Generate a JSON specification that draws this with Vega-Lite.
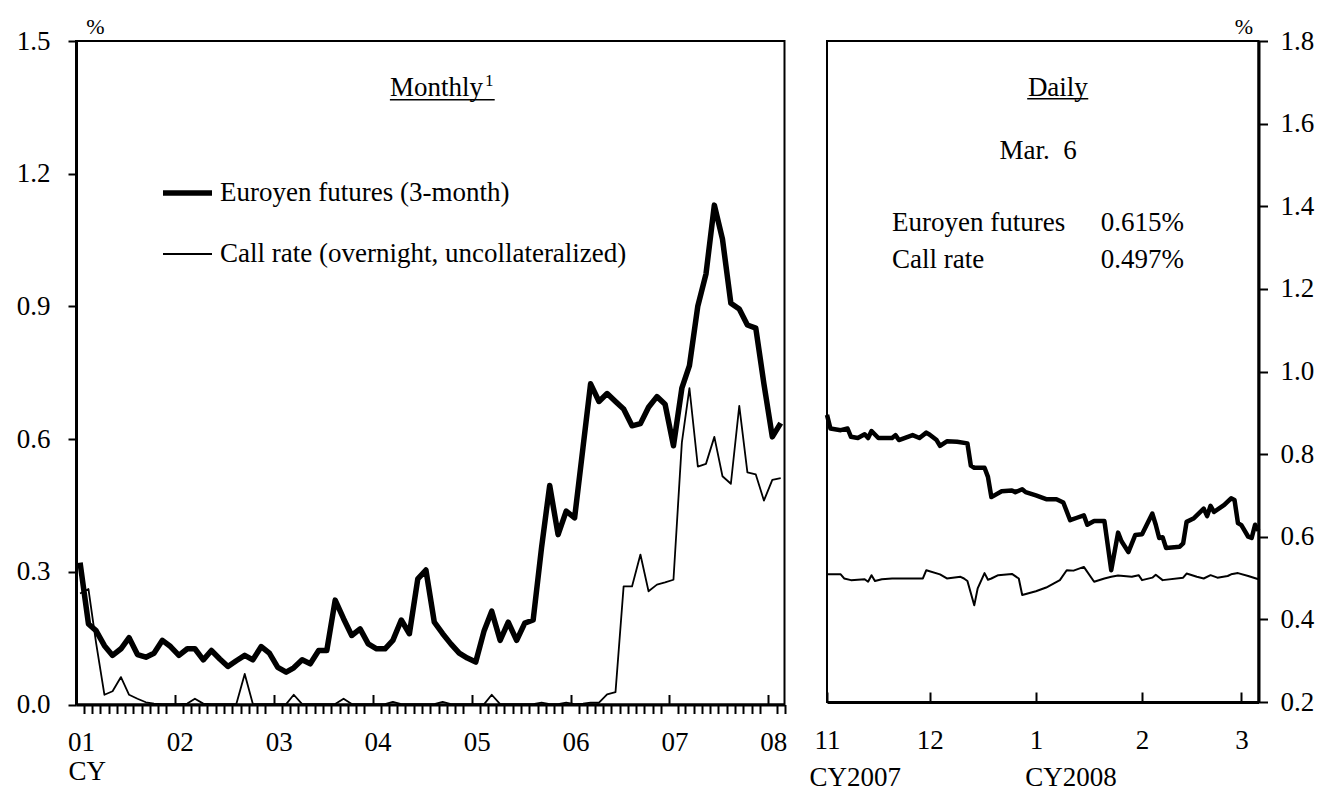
{
  "$schema": "https://vega.github.io/schema/vega-lite/v6.json",
  "autosize": {"type": "pad"},
  "padding": {"left": 15, "top": 14, "right": 0, "bottom": 0},
  "background": "white",
  "config": {
    "font": "Liberation Serif",
    "view": {"stroke": "black", "strokeWidth": 2},
    "axis": {"labelColor": "black", "tickColor": "black", "domainColor": "black", "titleColor": "black", "labelFontSize": 27, "grid": false, "labelFlush": false, "labelOverlap": false, "labelFont": "Liberation Serif", "titleFont": "Liberation Serif"},
    "text": {"fontSize": 27, "color": "black", "font": "Liberation Serif"}
  },
  "datasets": {
    "monthly": [
      {"date": "2001-01-16", "euroyen": 0.321, "call": 0.251},
      {"date": "2001-02-16", "euroyen": 0.182, "call": 0.261},
      {"date": "2001-03-16", "euroyen": 0.167, "call": 0.14},
      {"date": "2001-04-16", "euroyen": 0.133, "call": 0.022},
      {"date": "2001-05-16", "euroyen": 0.111, "call": 0.030},
      {"date": "2001-06-16", "euroyen": 0.126, "call": 0.062},
      {"date": "2001-07-16", "euroyen": 0.151, "call": 0.022},
      {"date": "2001-08-16", "euroyen": 0.113, "call": 0.013},
      {"date": "2001-09-16", "euroyen": 0.107, "call": 0.005},
      {"date": "2001-10-16", "euroyen": 0.116, "call": 0.002},
      {"date": "2001-11-16", "euroyen": 0.145, "call": 0.001},
      {"date": "2001-12-16", "euroyen": 0.131, "call": 0.001},
      {"date": "2002-01-16", "euroyen": 0.111, "call": 0.001},
      {"date": "2002-02-16", "euroyen": 0.126, "call": 0.002},
      {"date": "2002-03-16", "euroyen": 0.126, "call": 0.013},
      {"date": "2002-04-16", "euroyen": 0.101, "call": 0.002},
      {"date": "2002-05-16", "euroyen": 0.122, "call": 0.001},
      {"date": "2002-06-16", "euroyen": 0.103, "call": 0.001},
      {"date": "2002-07-16", "euroyen": 0.086, "call": 0.001},
      {"date": "2002-08-16", "euroyen": 0.099, "call": 0.001},
      {"date": "2002-09-16", "euroyen": 0.111, "call": 0.069},
      {"date": "2002-10-16", "euroyen": 0.101, "call": 0.001},
      {"date": "2002-11-16", "euroyen": 0.131, "call": 0.001},
      {"date": "2002-12-16", "euroyen": 0.116, "call": 0.001},
      {"date": "2003-01-16", "euroyen": 0.084, "call": 0.001},
      {"date": "2003-02-16", "euroyen": 0.073, "call": 0.001},
      {"date": "2003-03-16", "euroyen": 0.083, "call": 0.022},
      {"date": "2003-04-16", "euroyen": 0.101, "call": 0.001},
      {"date": "2003-05-16", "euroyen": 0.092, "call": 0.001},
      {"date": "2003-06-16", "euroyen": 0.122, "call": 0.001},
      {"date": "2003-07-16", "euroyen": 0.122, "call": 0.001},
      {"date": "2003-08-16", "euroyen": 0.236, "call": 0.001},
      {"date": "2003-09-16", "euroyen": 0.194, "call": 0.013},
      {"date": "2003-10-16", "euroyen": 0.156, "call": 0.001},
      {"date": "2003-11-16", "euroyen": 0.171, "call": 0.001},
      {"date": "2003-12-16", "euroyen": 0.137, "call": 0.001},
      {"date": "2004-01-16", "euroyen": 0.126, "call": 0.001},
      {"date": "2004-02-16", "euroyen": 0.126, "call": 0.001},
      {"date": "2004-03-16", "euroyen": 0.145, "call": 0.006},
      {"date": "2004-04-16", "euroyen": 0.191, "call": 0.001},
      {"date": "2004-05-16", "euroyen": 0.160, "call": 0.001},
      {"date": "2004-06-16", "euroyen": 0.284, "call": 0.001},
      {"date": "2004-07-16", "euroyen": 0.304, "call": 0.001},
      {"date": "2004-08-16", "euroyen": 0.186, "call": 0.001},
      {"date": "2004-09-16", "euroyen": 0.160, "call": 0.006},
      {"date": "2004-10-16", "euroyen": 0.137, "call": 0.001},
      {"date": "2004-11-16", "euroyen": 0.116, "call": 0.001},
      {"date": "2004-12-16", "euroyen": 0.105, "call": 0.001},
      {"date": "2005-01-16", "euroyen": 0.096, "call": 0.001},
      {"date": "2005-02-16", "euroyen": 0.167, "call": 0.001},
      {"date": "2005-03-16", "euroyen": 0.211, "call": 0.022},
      {"date": "2005-04-16", "euroyen": 0.145, "call": 0.001},
      {"date": "2005-05-16", "euroyen": 0.186, "call": 0.001},
      {"date": "2005-06-16", "euroyen": 0.145, "call": 0.001},
      {"date": "2005-07-16", "euroyen": 0.184, "call": 0.001},
      {"date": "2005-08-16", "euroyen": 0.191, "call": 0.001},
      {"date": "2005-09-16", "euroyen": 0.355, "call": 0.004},
      {"date": "2005-10-16", "euroyen": 0.495, "call": 0.001},
      {"date": "2005-11-16", "euroyen": 0.384, "call": 0.001},
      {"date": "2005-12-16", "euroyen": 0.437, "call": 0.004},
      {"date": "2006-01-16", "euroyen": 0.422, "call": 0.001},
      {"date": "2006-02-16", "euroyen": 0.581, "call": 0.002},
      {"date": "2006-03-16", "euroyen": 0.725, "call": 0.004},
      {"date": "2006-04-16", "euroyen": 0.685, "call": 0.004},
      {"date": "2006-05-16", "euroyen": 0.703, "call": 0.023},
      {"date": "2006-06-16", "euroyen": 0.685, "call": 0.028},
      {"date": "2006-07-16", "euroyen": 0.668, "call": 0.267},
      {"date": "2006-08-16", "euroyen": 0.630, "call": 0.267},
      {"date": "2006-09-16", "euroyen": 0.635, "call": 0.339},
      {"date": "2006-10-16", "euroyen": 0.672, "call": 0.256},
      {"date": "2006-11-16", "euroyen": 0.696, "call": 0.271},
      {"date": "2006-12-16", "euroyen": 0.679, "call": 0.276},
      {"date": "2007-01-16", "euroyen": 0.585, "call": 0.282},
      {"date": "2007-02-16", "euroyen": 0.715, "call": 0.592},
      {"date": "2007-03-16", "euroyen": 0.766, "call": 0.715},
      {"date": "2007-04-16", "euroyen": 0.901, "call": 0.538},
      {"date": "2007-05-16", "euroyen": 0.973, "call": 0.544},
      {"date": "2007-06-16", "euroyen": 1.129, "call": 0.605},
      {"date": "2007-07-16", "euroyen": 1.052, "call": 0.516},
      {"date": "2007-08-16", "euroyen": 0.907, "call": 0.499},
      {"date": "2007-09-16", "euroyen": 0.894, "call": 0.675},
      {"date": "2007-10-16", "euroyen": 0.858, "call": 0.525},
      {"date": "2007-11-16", "euroyen": 0.851, "call": 0.520},
      {"date": "2007-12-16", "euroyen": 0.725, "call": 0.461},
      {"date": "2008-01-16", "euroyen": 0.605, "call": 0.508},
      {"date": "2008-02-16", "euroyen": 0.636, "call": 0.512}
    ],
    "daily": [
      {"date": "2007-11-01", "series": "euroyen", "value": 0.895},
      {"date": "2007-11-02", "series": "euroyen", "value": 0.862},
      {"date": "2007-11-05", "series": "euroyen", "value": 0.858},
      {"date": "2007-11-07", "series": "euroyen", "value": 0.862},
      {"date": "2007-11-08", "series": "euroyen", "value": 0.842},
      {"date": "2007-11-10", "series": "euroyen", "value": 0.839},
      {"date": "2007-11-12", "series": "euroyen", "value": 0.848},
      {"date": "2007-11-13", "series": "euroyen", "value": 0.839},
      {"date": "2007-11-14", "series": "euroyen", "value": 0.856},
      {"date": "2007-11-16", "series": "euroyen", "value": 0.839},
      {"date": "2007-11-20", "series": "euroyen", "value": 0.839},
      {"date": "2007-11-21", "series": "euroyen", "value": 0.846},
      {"date": "2007-11-22", "series": "euroyen", "value": 0.834},
      {"date": "2007-11-26", "series": "euroyen", "value": 0.846},
      {"date": "2007-11-28", "series": "euroyen", "value": 0.839},
      {"date": "2007-11-30", "series": "euroyen", "value": 0.852},
      {"date": "2007-12-01", "series": "euroyen", "value": 0.847},
      {"date": "2007-12-03", "series": "euroyen", "value": 0.834},
      {"date": "2007-12-04", "series": "euroyen", "value": 0.820},
      {"date": "2007-12-06", "series": "euroyen", "value": 0.831},
      {"date": "2007-12-09", "series": "euroyen", "value": 0.830},
      {"date": "2007-12-12", "series": "euroyen", "value": 0.826},
      {"date": "2007-12-13", "series": "euroyen", "value": 0.772},
      {"date": "2007-12-14", "series": "euroyen", "value": 0.767},
      {"date": "2007-12-17", "series": "euroyen", "value": 0.767},
      {"date": "2007-12-18", "series": "euroyen", "value": 0.745},
      {"date": "2007-12-19", "series": "euroyen", "value": 0.696},
      {"date": "2007-12-22", "series": "euroyen", "value": 0.710},
      {"date": "2007-12-25", "series": "euroyen", "value": 0.712},
      {"date": "2007-12-26", "series": "euroyen", "value": 0.708},
      {"date": "2007-12-28", "series": "euroyen", "value": 0.715},
      {"date": "2007-12-29", "series": "euroyen", "value": 0.708},
      {"date": "2008-01-01", "series": "euroyen", "value": 0.700},
      {"date": "2008-01-04", "series": "euroyen", "value": 0.691},
      {"date": "2008-01-07", "series": "euroyen", "value": 0.691},
      {"date": "2008-01-09", "series": "euroyen", "value": 0.683},
      {"date": "2008-01-11", "series": "euroyen", "value": 0.640},
      {"date": "2008-01-13", "series": "euroyen", "value": 0.646},
      {"date": "2008-01-15", "series": "euroyen", "value": 0.652},
      {"date": "2008-01-16", "series": "euroyen", "value": 0.629},
      {"date": "2008-01-18", "series": "euroyen", "value": 0.638},
      {"date": "2008-01-21", "series": "euroyen", "value": 0.638},
      {"date": "2008-01-23", "series": "euroyen", "value": 0.519},
      {"date": "2008-01-25", "series": "euroyen", "value": 0.610},
      {"date": "2008-01-26", "series": "euroyen", "value": 0.589},
      {"date": "2008-01-28", "series": "euroyen", "value": 0.563},
      {"date": "2008-01-30", "series": "euroyen", "value": 0.604},
      {"date": "2008-02-01", "series": "euroyen", "value": 0.606},
      {"date": "2008-02-04", "series": "euroyen", "value": 0.656},
      {"date": "2008-02-05", "series": "euroyen", "value": 0.629},
      {"date": "2008-02-06", "series": "euroyen", "value": 0.597},
      {"date": "2008-02-07", "series": "euroyen", "value": 0.599},
      {"date": "2008-02-08", "series": "euroyen", "value": 0.573},
      {"date": "2008-02-12", "series": "euroyen", "value": 0.576},
      {"date": "2008-02-13", "series": "euroyen", "value": 0.584},
      {"date": "2008-02-14", "series": "euroyen", "value": 0.636},
      {"date": "2008-02-16", "series": "euroyen", "value": 0.644},
      {"date": "2008-02-19", "series": "euroyen", "value": 0.668},
      {"date": "2008-02-20", "series": "euroyen", "value": 0.650},
      {"date": "2008-02-21", "series": "euroyen", "value": 0.675},
      {"date": "2008-02-22", "series": "euroyen", "value": 0.660},
      {"date": "2008-02-25", "series": "euroyen", "value": 0.677},
      {"date": "2008-02-27", "series": "euroyen", "value": 0.693},
      {"date": "2008-02-28", "series": "euroyen", "value": 0.689},
      {"date": "2008-02-29", "series": "euroyen", "value": 0.633},
      {"date": "2008-03-01", "series": "euroyen", "value": 0.628},
      {"date": "2008-03-03", "series": "euroyen", "value": 0.600},
      {"date": "2008-03-04", "series": "euroyen", "value": 0.597},
      {"date": "2008-03-05", "series": "euroyen", "value": 0.629},
      {"date": "2008-03-06", "series": "euroyen", "value": 0.615},
      {"date": "2007-11-01", "series": "call", "value": 0.509},
      {"date": "2007-11-05", "series": "call", "value": 0.509},
      {"date": "2007-11-06", "series": "call", "value": 0.499},
      {"date": "2007-11-08", "series": "call", "value": 0.495},
      {"date": "2007-11-12", "series": "call", "value": 0.497},
      {"date": "2007-11-13", "series": "call", "value": 0.491},
      {"date": "2007-11-14", "series": "call", "value": 0.507},
      {"date": "2007-11-15", "series": "call", "value": 0.493},
      {"date": "2007-11-17", "series": "call", "value": 0.497},
      {"date": "2007-11-20", "series": "call", "value": 0.499},
      {"date": "2007-11-27", "series": "call", "value": 0.499},
      {"date": "2007-11-29", "series": "call", "value": 0.499},
      {"date": "2007-11-30", "series": "call", "value": 0.519},
      {"date": "2007-12-04", "series": "call", "value": 0.509},
      {"date": "2007-12-06", "series": "call", "value": 0.499},
      {"date": "2007-12-10", "series": "call", "value": 0.503},
      {"date": "2007-12-11", "series": "call", "value": 0.499},
      {"date": "2007-12-12", "series": "call", "value": 0.493},
      {"date": "2007-12-14", "series": "call", "value": 0.434},
      {"date": "2007-12-15", "series": "call", "value": 0.475},
      {"date": "2007-12-17", "series": "call", "value": 0.512},
      {"date": "2007-12-18", "series": "call", "value": 0.496},
      {"date": "2007-12-19", "series": "call", "value": 0.499},
      {"date": "2007-12-21", "series": "call", "value": 0.507},
      {"date": "2007-12-25", "series": "call", "value": 0.510},
      {"date": "2007-12-27", "series": "call", "value": 0.499},
      {"date": "2007-12-28", "series": "call", "value": 0.459},
      {"date": "2008-01-01", "series": "call", "value": 0.468},
      {"date": "2008-01-04", "series": "call", "value": 0.477},
      {"date": "2008-01-08", "series": "call", "value": 0.495},
      {"date": "2008-01-10", "series": "call", "value": 0.519},
      {"date": "2008-01-12", "series": "call", "value": 0.518},
      {"date": "2008-01-15", "series": "call", "value": 0.527},
      {"date": "2008-01-18", "series": "call", "value": 0.491},
      {"date": "2008-01-21", "series": "call", "value": 0.499},
      {"date": "2008-01-23", "series": "call", "value": 0.503},
      {"date": "2008-01-25", "series": "call", "value": 0.506},
      {"date": "2008-01-29", "series": "call", "value": 0.503},
      {"date": "2008-01-31", "series": "call", "value": 0.507},
      {"date": "2008-02-01", "series": "call", "value": 0.495},
      {"date": "2008-02-04", "series": "call", "value": 0.501},
      {"date": "2008-02-05", "series": "call", "value": 0.508},
      {"date": "2008-02-07", "series": "call", "value": 0.495},
      {"date": "2008-02-13", "series": "call", "value": 0.501},
      {"date": "2008-02-14", "series": "call", "value": 0.511},
      {"date": "2008-02-17", "series": "call", "value": 0.503},
      {"date": "2008-02-19", "series": "call", "value": 0.499},
      {"date": "2008-02-21", "series": "call", "value": 0.507},
      {"date": "2008-02-23", "series": "call", "value": 0.501},
      {"date": "2008-02-26", "series": "call", "value": 0.505},
      {"date": "2008-02-27", "series": "call", "value": 0.509},
      {"date": "2008-02-29", "series": "call", "value": 0.512},
      {"date": "2008-03-03", "series": "call", "value": 0.505},
      {"date": "2008-03-06", "series": "call", "value": 0.497}
    ]
  },
  "hconcat": [
    {
      "width": 708.5,
      "height": 663.5,
      "layer": [
        {
          "data": {"name": "monthly"},
          "transform": [{"fold": ["euroyen", "call"], "as": ["series", "value"]}],
          "mark": {"type": "line", "color": "black", "strokeJoin": "round"},
          "encoding": {
            "x": {
              "field": "date", "type": "temporal",
              "scale": {"type": "utc", "domain": [{"year": 2001, "month": 1, "date": 1, "utc": true}, {"year": 2008, "month": 3, "date": 1, "utc": true}]},
              "axis": {
                "orient": "bottom", "title": null,
                "values": [
                  {"year": 2001, "month": 1, "date": 1, "utc": true},
                  {"year": 2002, "month": 1, "date": 1, "utc": true},
                  {"year": 2003, "month": 1, "date": 1, "utc": true},
                  {"year": 2004, "month": 1, "date": 1, "utc": true},
                  {"year": 2005, "month": 1, "date": 1, "utc": true},
                  {"year": 2006, "month": 1, "date": 1, "utc": true},
                  {"year": 2007, "month": 1, "date": 1, "utc": true},
                  {"year": 2008, "month": 1, "date": 1, "utc": true}
                ],
                "labelExpr": "utcFormat(datum.value, '%y')",
                "tickSize": -10, "tickWidth": 2, "domainWidth": 3,
                "labelPadding": 34.5, "labelOffset": 5, "labelFontSize": 27
              }
            },
            "y": {
              "field": "value", "type": "quantitative",
              "scale": {"domain": [0, 1.5], "nice": false, "zero": false},
              "axis": {
                "orient": "left", "values": [0, 0.3, 0.6, 0.9, 1.2, 1.5], "format": ".1f",
                "tickSize": 8, "tickWidth": 2, "domainWidth": 3, "labelPadding": 18, "labelFontSize": 27,
                "title": "%", "titleAngle": 0, "titleX": 19, "titleY": -7.5, "titleAlign": "center", "titleBaseline": "alphabetic", "titleFontSize": 22, "titleFontWeight": "normal"
              }
            },
            "strokeWidth": {
              "field": "series", "type": "nominal",
              "scale": {"type": "point", "domain": ["euroyen", "call"], "range": [5.5, 1.8], "padding": 0},
              "legend": {
                "orient": "none", "legendX": 84, "legendY": 124.5, "title": null,
                "symbolType": "stroke", "symbolSize": 2401, "symbolStrokeColor": "black",
                "labelFontSize": 27, "labelColor": "black", "labelFont": "Liberation Serif", "labelOffset": 5, "rowPadding": 22, "padding": 0, "labelLimit": 900,
                "labelExpr": "datum.value === 'euroyen' ? 'Euroyen futures (3-month)' : 'Call rate (overnight, uncollateralized)'"
              }
            }
          }
        },
        {
          "data": {"values": [{}]},
          "mark": {"type": "text", "align": "left", "baseline": "alphabetic", "fontSize": 27},
          "encoding": {
            "x": {
              "datum": {"year": 2004, "month": 3, "date": 5, "utc": true}, "type": "temporal",
              "axis": {
                "orient": "bottom", "title": null, "labels": false, "domain": false,
                "tickCount": {"interval": "month", "step": 1},
                "tickSize": 9, "tickWidth": 2,
                "tickOpacity": {"condition": {"test": "utcmonth(datum.value) === 0", "value": 0}, "value": 1}
              }
            },
            "y": {"datum": 1.376, "type": "quantitative", "axis": null},
            "text": {"value": "Monthly"}
          }
        },
        {
          "data": {"values": [{}]},
          "mark": {"type": "rule", "color": "black", "strokeWidth": 1.5},
          "encoding": {
            "x": {"datum": {"year": 2004, "month": 3, "date": 5, "utc": true}, "type": "temporal", "axis": null},
            "x2": {"datum": {"year": 2005, "month": 3, "date": 27, "utc": true}},
            "y": {"datum": 1.367, "type": "quantitative", "axis": null}
          }
        },
        {
          "data": {"values": [{}]},
          "mark": {"type": "text", "align": "left", "baseline": "alphabetic", "fontSize": 17},
          "encoding": {
            "x": {
              "datum": {"year": 2005, "month": 2, "date": 19, "hours": 12, "utc": true}, "type": "temporal",
              "axis": {
                "orient": "bottom", "title": null, "domain": false, "ticks": false,
                "values": [{"year": 2001, "month": 1, "date": 1, "utc": true}],
                "labelExpr": "'CY'", "labelAlign": "left", "labelOffset": -8, "labelPadding": 54, "labelFontSize": 27
              }
            },
            "y": {"datum": 1.398, "type": "quantitative", "axis": null},
            "text": {"value": "1"}
          }
        }
      ],
      "resolve": {"axis": {"x": "independent", "y": "independent"}}
    },
    {
      "width": 431.5,
      "height": 661,
      "layer": [
        {
          "data": {"name": "daily"},
          "mark": {"type": "line", "color": "black", "strokeJoin": "round"},
          "encoding": {
            "x": {
              "field": "date", "type": "temporal",
              "scale": {"type": "utc", "domain": [{"year": 2007, "month": 11, "date": 1, "utc": true}, {"year": 2008, "month": 3, "date": 6, "utc": true}]},
              "axis": {
                "orient": "bottom", "title": null,
                "values": [
                  {"year": 2007, "month": 11, "date": 1, "utc": true},
                  {"year": 2007, "month": 12, "date": 1, "utc": true},
                  {"year": 2008, "month": 1, "date": 1, "utc": true},
                  {"year": 2008, "month": 2, "date": 1, "utc": true},
                  {"year": 2008, "month": 3, "date": 1, "utc": true}
                ],
                "labelExpr": "utcFormat(datum.value, '%-m')",
                "tickSize": -10, "tickWidth": 2, "domainWidth": 3, "labelPadding": 35, "labelFontSize": 27
              }
            },
            "y": {
              "field": "value", "type": "quantitative",
              "scale": {"domain": [0.2, 1.8], "nice": false, "zero": false},
              "axis": {
                "orient": "right", "values": [0.2, 0.4, 0.6, 0.8, 1.0, 1.2, 1.4, 1.6, 1.8], "format": ".1f",
                "tickSize": 9, "tickWidth": 2, "domainWidth": 3, "labelPadding": 12.5, "labelFontSize": 27,
                "title": "%", "titleAngle": 0, "titleX": -15, "titleY": -7.5, "titleAlign": "center", "titleBaseline": "alphabetic", "titleFontSize": 22, "titleFontWeight": "normal"
              }
            },
            "detail": {"field": "series", "type": "nominal"},
            "strokeWidth": {"condition": {"test": "datum.series === 'euroyen'", "value": 4.5}, "value": 2}
          }
        },
        {
          "data": {"values": [{}]},
          "mark": {"type": "text", "align": "center", "baseline": "alphabetic", "fontSize": 27},
          "encoding": {
            "x": {
              "datum": {"year": 2008, "month": 1, "date": 7, "hours": 10, "utc": true}, "type": "temporal",
              "axis": {
                "orient": "bottom", "title": null, "domain": false, "ticks": false,
                "values": [{"year": 2007, "month": 11, "date": 1, "utc": true}, {"year": 2008, "month": 1, "date": 3, "utc": true}],
                "labelExpr": "'CY' + utcFormat(datum.value, '%Y')", "labelAlign": "left", "labelOffset": -18, "labelPadding": 62, "labelFontSize": 27
              }
            },
            "y": {"datum": 1.667, "type": "quantitative", "axis": null},
            "text": {"value": "Daily"}
          }
        },
        {
          "data": {"values": [{}]},
          "mark": {"type": "rule", "color": "black", "strokeWidth": 1.5},
          "encoding": {
            "x": {"datum": {"year": 2007, "month": 12, "date": 29, "hours": 11, "utc": true}, "type": "temporal", "axis": null},
            "x2": {"datum": {"year": 2008, "month": 1, "date": 16, "hours": 7, "utc": true}},
            "y": {"datum": 1.660, "type": "quantitative", "axis": null}
          }
        },
        {
          "data": {"values": [{}]},
          "mark": {"type": "text", "align": "center", "baseline": "alphabetic", "fontSize": 27},
          "encoding": {
            "x": {"datum": {"year": 2008, "month": 1, "date": 1, "hours": 15, "utc": true}, "type": "temporal", "axis": null},
            "y": {"datum": 1.514, "type": "quantitative", "axis": null},
            "text": {"value": "Mar.\u00a0 6"}
          }
        },
        {
          "data": {"values": [{}]},
          "mark": {"type": "text", "align": "left", "baseline": "alphabetic", "fontSize": 27, "lineHeight": 36.7},
          "encoding": {
            "x": {"datum": {"year": 2007, "month": 11, "date": 20, "utc": true}, "type": "temporal", "axis": null},
            "y": {"datum": 1.340, "type": "quantitative", "axis": null},
            "text": {"value": ["Euroyen futures", "Call rate"]}
          }
        },
        {
          "data": {"values": [{}]},
          "mark": {"type": "text", "align": "left", "baseline": "alphabetic", "fontSize": 27, "lineHeight": 36.7},
          "encoding": {
            "x": {"datum": {"year": 2008, "month": 1, "date": 19, "hours": 22, "utc": true}, "type": "temporal", "axis": null},
            "y": {"datum": 1.340, "type": "quantitative", "axis": null},
            "text": {"value": ["0.615%", "0.497%"]}
          }
        }
      ],
      "resolve": {"axis": {"x": "independent", "y": "independent"}}
    }
  ],
  "spacing": 42,
  "bounds": "flush"
}
